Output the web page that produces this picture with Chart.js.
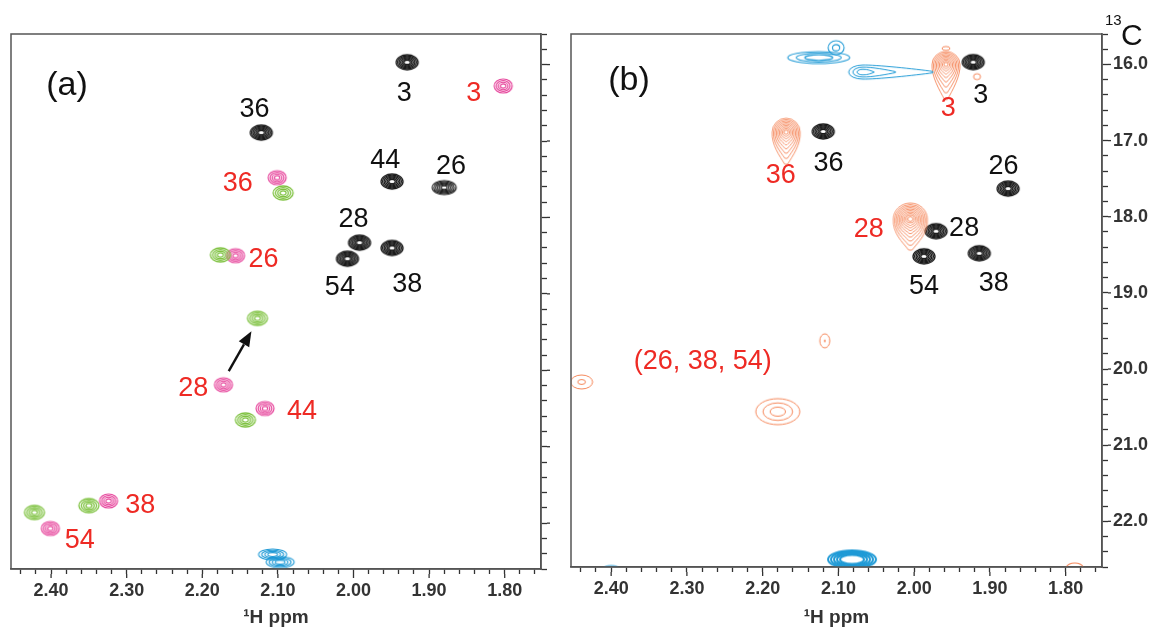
<!DOCTYPE html>
<html>
<head>
<meta charset="utf-8">
<script src="https://cdn.jsdelivr.net/npm/chart.js@4.4.0/dist/chart.umd.min.js"></script>
<style>
  body { margin: 0; background: #fff; }
  #wrap { position: relative; width: 1154px; height: 629px; }
  .pane { position: absolute; top: 0; }
</style>
</head>
<body>
<div id="wrap">
  <div class="pane" style="left:0"><canvas id="chartA" width="560" height="629"></canvas></div>
  <div class="pane" style="left:560px"><canvas id="chartB" width="594" height="629"></canvas></div>
</div>
<script>
// axis ranges (ppm), both shown reversed
const hMin = 1.752, hMax = 2.453;
const cMin = 15.6, cMax = 22.6;

// ---- panel (a) ----
const aBlackH = [1.929, 2.122, 1.949, 1.880, 1.992, 2.008, 1.949];
const aBlackC = [15.97, 16.89, 17.53, 17.61, 18.33, 18.54, 18.40];
const aBlackText = ['3', '36', '44', '26', '28', '54', '38'];
const aBlackTextH = [1.933, 2.131, 1.958, 1.871, 2.000, 2.018, 1.929];
const aBlackTextC = [16.35, 16.56, 17.22, 17.30, 17.99, 18.88, 18.84];

const aPinkH = [1.802, 2.101, 2.156, 2.172, 2.117, 2.324, 2.401];
const aPinkC = [16.28, 17.48, 18.50, 20.19, 20.50, 21.71, 22.07];
const aRedText = ['3', '36', '26', '28', '44', '38', '54'];
const aRedTextH = [1.841, 2.153, 2.119, 2.212, 2.068, 2.282, 2.362];
const aRedTextC = [16.35, 17.52, 18.52, 20.21, 20.50, 21.73, 22.19];

const aGreenH = [2.093, 2.176, 2.127, 2.143, 2.350, 2.422];
const aGreenC = [17.68, 18.49, 19.32, 20.65, 21.77, 21.86];

const aBlueH = [2.107, 2.097];
const aBlueC = [22.41, 22.51];

const aArrowH = [2.165, 2.135];
const aArrowC = [20.01, 19.49];

// ---- panel (b) ----
const bBlackH = [1.922, 2.120, 1.876, 1.971, 1.987, 1.914];
const bBlackC = [15.97, 16.88, 17.63, 18.19, 18.52, 18.48];
const bBlackText = ['3', '36', '26', '28', '54', '38'];
const bBlackTextH = [1.912, 2.113, 1.882, 1.934, 1.987, 1.895];
const bBlackTextC = [16.37, 17.27, 17.31, 18.12, 18.88, 18.84];

const bOrangeH = [1.958, 2.169, 2.005];
const bOrangeC = [16.00, 16.89, 18.03];
const bRedText = ['3', '36', '28', '(26, 38, 54)'];
const bRedTextH = [1.955, 2.176, 2.060, 2.279];
const bRedTextC = [16.54, 17.42, 18.14, 19.87];

const bWeakH = [2.118, 2.180, 2.439, 1.958, 1.917, 1.788];
const bWeakC = [19.63, 20.56, 20.17, 15.79, 16.16, 22.60];

const bBlueBlobH = [2.126, 2.103, 2.082, 2.400];
const bBlueBlobC = [15.91, 15.78, 22.50, 22.62];
const bBlueStreakH = [2.068];
const bBlueStreakC = [16.10];

// ---- colours ----
const BLACK = '#1a1a1a', PINK = '#e6449b', GREEN = '#7fc241', BLUE = '#1f9ad6';
const ORANGE = '#f5875a', RED = '#ee2a24', AXIS = '#333';
const FONT = 'Liberation Sans, Arial, sans-serif';

Chart.defaults.font.family = FONT;

// contour glyph: concentric rings, optional tail (down) and rotation
function contour(color, rx, ry, n, opt) {
  opt = opt || {};
  const f0 = opt.f0 != null ? opt.f0 : 0.3;
  const lw = opt.lw || 1;
  const tail = opt.tail || 0;
  const pad = 3;
  let W = 2 * rx + 2 * pad, H = 2 * (ry + tail) + 2 * pad;
  if (opt.rot) { const t = W; W = H; H = t; }
  const c = document.createElement('canvas');
  c.width = Math.ceil(W); c.height = Math.ceil(H);
  const g = c.getContext('2d');
  g.translate(c.width / 2, c.height / 2);
  if (opt.rot) g.rotate(opt.rot);
  g.strokeStyle = color;
  g.lineWidth = lw;
  for (let k = 0; k < n; k++) {
    const f = n === 1 ? 1 : f0 + (1 - f0) * k / (n - 1);
    const w = rx * f, h = ry * f;
    const d = h + tail * Math.pow(f, 2.5);
    g.beginPath();
    g.ellipse(0, 0, w, h, 0, Math.PI, 2 * Math.PI);
    if (d > h + 0.5) {
      g.bezierCurveTo(w * 1.05, h * 0.9, w * 0.45, d * 0.75, w * 0.1, d);
      g.lineTo(-w * 0.1, d);
      g.bezierCurveTo(-w * 0.45, d * 0.75, -w * 1.05, h * 0.9, -w, 0);
    } else {
      g.ellipse(0, 0, w, h, 0, 0, Math.PI);
    }
    g.stroke();
  }
  if (opt.dot) {
    g.fillStyle = color;
    g.beginPath(); g.ellipse(0, 0, 0.8, 1.6, 0, 0, 2 * Math.PI); g.fill();
  }
  return c;
}

const imgBlack = contour(BLACK, 11, 7.5, 6, { f0: 0.3, lw: 1.3 });
const imgBlack26 = contour(BLACK, 12, 7, 6, { f0: 0.25, lw: 1.1 });
const imgPink = contour(PINK, 9, 7, 4, { f0: 0.3, lw: 1.2 });
const imgGreen = contour(GREEN, 10, 7, 4, { f0: 0.3, lw: 1.3 });
const imgBlueA = contour(BLUE, 14, 5.5, 4, { f0: 0.35, lw: 1.1 });
const imgOrangeBig = [
  contour(ORANGE, 14, 13, 9, { f0: 0.15, lw: 0.9, tail: 22 }),
  contour(ORANGE, 14, 14, 9, { f0: 0.15, lw: 0.9, tail: 18 }),
  contour(ORANGE, 17, 16, 10, { f0: 0.15, lw: 0.9, tail: 15 })
];
const imgWeak = [
  contour(ORANGE, 5, 7, 1, { lw: 1, dot: true }),
  contour(ORANGE, 22, 13, 3, { f0: 0.35, lw: 1 }),
  contour(ORANGE, 11, 7, 2, { f0: 0.35, lw: 1 }),
  contour(ORANGE, 4, 2, 1, { lw: 1 }),
  contour(ORANGE, 3.5, 3, 1, { lw: 1 }),
  contour(ORANGE, 8, 4, 1, { lw: 1.2 })
];
const imgBlueBlob = [
  contour(BLUE, 31, 6, 3, { f0: 0.45, lw: 1.1 }),
  contour(BLUE, 8, 7, 2, { f0: 0.45, lw: 1.1 }),
  contour(BLUE, 24, 9, 5, { f0: 0.5, lw: 2 }),
  contour(BLUE, 8, 3, 1, { lw: 1 })
];
const imgBlueStreak = contour(BLUE, 7, 14, 3, { f0: 0.4, lw: 1, tail: 56, rot: -Math.PI / 2 });

function pts(hs, cs) { return hs.map((h, i) => ({ x: h, y: cs[i] })); }
function texts(list, hs, cs, color) { return list.map((t, i) => ({ text: t, x: hs[i], y: cs[i], color: color })); }

function peakSet(hs, cs, style) {
  return { data: pts(hs, cs), pointStyle: style, pointRadius: 10, showLine: false };
}

// frame, longer major ticks, labels, arrow, extra captions
const decor = {
  id: 'decor',
  afterDatasetsDraw(chart, args, o) {
    const ctx = chart.ctx, a = chart.chartArea;
    const sx = chart.scales.x, sy = chart.scales.y;
    ctx.save();
    ctx.strokeStyle = '#555';
    ctx.lineWidth = 1.5;
    ctx.strokeRect(a.left, a.top, a.right - a.left, a.bottom - a.top);

    ctx.strokeStyle = AXIS;
    ctx.lineWidth = 1.3;
    sx.ticks.forEach(t => {
      if (Math.abs(t.value * 10 - Math.round(t.value * 10)) < 1e-6) {
        const px = sx.getPixelForValue(t.value);
        ctx.beginPath(); ctx.moveTo(px, a.bottom + 5); ctx.lineTo(px, a.bottom + 9); ctx.stroke();
      }
    });
    sy.ticks.forEach(t => {
      if (Math.abs(t.value - Math.round(t.value)) < 1e-6) {
        const py = sy.getPixelForValue(t.value);
        ctx.beginPath(); ctx.moveTo(a.right + 6, py); ctx.lineTo(a.right + 9, py); ctx.stroke();
      }
    });

    ctx.textAlign = 'center';
    ctx.textBaseline = 'alphabetic';
    ctx.font = '27px ' + FONT;
    (o.labels || []).forEach(l => {
      ctx.fillStyle = l.color;
      ctx.fillText(l.text, sx.getPixelForValue(l.x), sy.getPixelForValue(l.y) + 10);
    });

    if (o.arrow) {
      const x0 = sx.getPixelForValue(o.arrow.h[0]), y0 = sy.getPixelForValue(o.arrow.c[0]);
      const x1 = sx.getPixelForValue(o.arrow.h[1]), y1 = sy.getPixelForValue(o.arrow.c[1]);
      const ang = Math.atan2(y1 - y0, x1 - x0);
      const hl = 15, hw = 6;
      const bx = x1 - hl * Math.cos(ang), by = y1 - hl * Math.sin(ang);
      ctx.strokeStyle = '#111';
      ctx.lineWidth = 2.4;
      ctx.beginPath(); ctx.moveTo(x0, y0); ctx.lineTo(bx, by); ctx.stroke();
      ctx.fillStyle = '#111';
      ctx.beginPath();
      ctx.moveTo(x1, y1);
      ctx.lineTo(bx + hw * Math.sin(ang), by - hw * Math.cos(ang));
      ctx.lineTo(bx - hw * Math.sin(ang), by + hw * Math.cos(ang));
      ctx.closePath(); ctx.fill();
    }

    ctx.fillStyle = '#111';
    ctx.textBaseline = 'middle';
    ctx.font = '34px ' + FONT;
    ctx.fillText(o.panel, o.panelPos[0], o.panelPos[1]);

    if (o.carbon) {
      ctx.textAlign = 'left';
      ctx.textBaseline = 'alphabetic';
      ctx.fillStyle = '#111';
      ctx.font = '15px ' + FONT;
      ctx.fillText('13', 545, 25);
      ctx.font = '30px ' + FONT;
      ctx.fillText('C', 561, 45);
    }
    ctx.restore();
  }
};

function scales(yLabels, yWidth, xHeight) {
  return {
    x: {
      type: 'linear', position: 'bottom', reverse: true, min: hMin, max: hMax,
      afterFit: s => { s.height = xHeight; },
      ticks: {
        stepSize: 0.02, includeBounds: false, autoSkip: false, maxRotation: 0,
        color: AXIS, font: { size: 18, weight: 'bold' }, padding: 6,
        callback: v => Math.abs(v * 10 - Math.round(v * 10)) < 1e-6 ? v.toFixed(2) : ''
      },
      grid: { drawOnChartArea: false, drawTicks: true, tickLength: 5, tickColor: AXIS, tickWidth: 1.3 },
      border: { color: '#555', width: 1.5 },
      title: { display: true, text: '¹H ppm', color: AXIS, font: { size: 19, weight: 'bold' }, padding: { top: 0, bottom: 0 } }
    },
    y: {
      type: 'linear', position: 'right', reverse: true, min: cMin, max: cMax,
      afterFit: s => { s.width = yWidth; },
      ticks: {
        stepSize: 0.2, includeBounds: false, autoSkip: false,
        color: AXIS, font: { size: 18, weight: 'bold' }, padding: 5,
        callback: v => (yLabels && Math.abs(v - Math.round(v)) < 1e-6) ? v.toFixed(1) : ''
      },
      grid: { drawOnChartArea: false, drawTicks: true, tickLength: 6, tickColor: AXIS, tickWidth: 1.3 },
      border: { color: '#555', width: 1.5 }
    }
  };
}

const common = {
  responsive: false, animation: false, events: [],
  plugins: { legend: { display: false }, tooltip: { enabled: false } }
};

new Chart(document.getElementById('chartA'), {
  type: 'scatter',
  data: {
    datasets: [
      peakSet(aBlueH, aBlueC, imgBlueA),
      peakSet(aGreenH, aGreenC, imgGreen),
      peakSet(aPinkH, aPinkC, imgPink),
      peakSet(aBlackH, aBlackC, aBlackH.map((h, i) => aBlackText[i] === '26' ? imgBlack26 : imgBlack))
    ]
  },
  options: Object.assign({}, common, {
    layout: { padding: { left: 9, top: 34, right: 0, bottom: 0 } },
    scales: scales(false, 19, 60),
    plugins: Object.assign({}, common.plugins, {
      decor: {
        panel: '(a)', panelPos: [67, 86],
        labels: texts(aBlackText, aBlackTextH, aBlackTextC, '#111').concat(texts(aRedText, aRedTextH, aRedTextC, RED)),
        arrow: { h: aArrowH, c: aArrowC }
      }
    })
  }),
  plugins: [decor]
});

new Chart(document.getElementById('chartB'), {
  type: 'scatter',
  data: {
    datasets: [
      peakSet(bBlueBlobH, bBlueBlobC, imgBlueBlob),
      peakSet(bBlueStreakH, bBlueStreakC, imgBlueStreak),
      peakSet(bWeakH, bWeakC, imgWeak),
      peakSet(bOrangeH, bOrangeC, imgOrangeBig),
      peakSet(bBlackH, bBlackC, imgBlack)
    ]
  },
  options: Object.assign({}, common, {
    layout: { padding: { left: 10, top: 34, right: 0, bottom: 0 } },
    scales: scales(true, 52, 62),
    plugins: Object.assign({}, common.plugins, {
      decor: {
        panel: '(b)', panelPos: [69, 81], carbon: true,
        labels: texts(bBlackText, bBlackTextH, bBlackTextC, '#111').concat(texts(bRedText, bRedTextH, bRedTextC, RED))
      }
    })
  }),
  plugins: [decor]
});
</script>
</body>
</html>
